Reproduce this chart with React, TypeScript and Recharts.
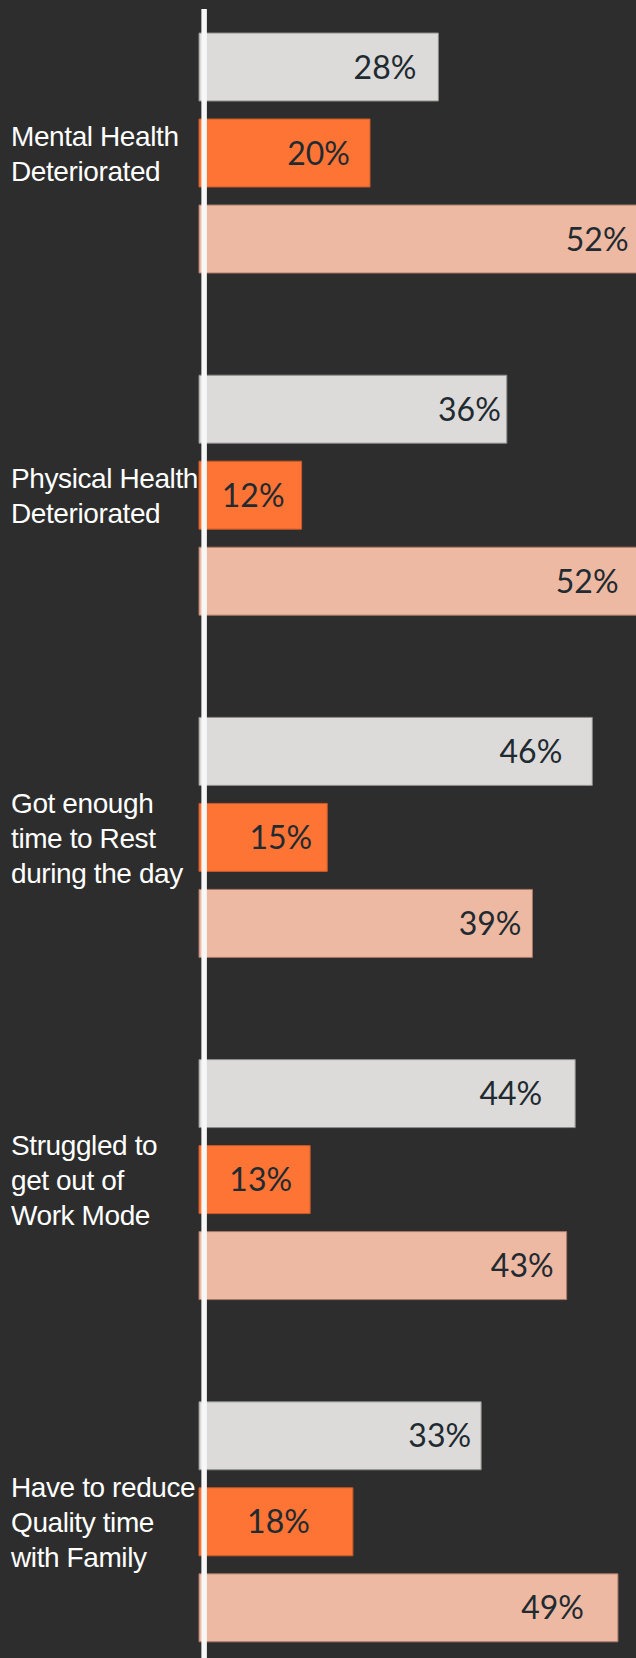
import React from "react";
import { BarChart, Bar, XAxis, YAxis, LabelList, ReferenceLine } from "recharts";

const categories = [
  "Mental Health\nDeteriorated",
  "Physical Health\nDeteriorated",
  "Got enough\ntime to Rest\nduring the day",
  "Struggled to\nget out of\nWork Mode",
  "Have to reduce\nQuality time\nwith Family",
];
const seriesGray = [28, 36, 46, 44, 33];
const seriesOrange = [20, 12, 15, 13, 18];
const seriesPeach = [52, 52, 39, 43, 49];

// label inset from bar end (style, px)
const insetGray = [22, 6, 30, 33, 10];
const insetOrange = [20, 17, 15, 18, 43];
const insetPeach = [15, 25, 11, 13, 34];

const data = categories.map((name, i) => ({
  name,
  gray: seriesGray[i],
  orange: seriesOrange[i],
  peach: seriesPeach[i],
}));

const CategoryTick = (props: any) => {
  const { y, payload } = props;
  const lines = String(payload.value).split("\n");
  const lh = 35;
  return (
    <text
      x={11}
      y={y}
      fill="#ffffff"
      fontSize={28}
      letterSpacing={-0.4}
      fontFamily="'Liberation Sans', Arial, sans-serif"
      textAnchor="start"
    >
      {lines.map((ln, i) => (
        <tspan key={i} x={11} y={y + (i - (lines.length - 1) / 2) * lh + 10}>
          {ln}
        </tspan>
      ))}
    </text>
  );
};

const makeLabel = (insets: number[]) => (p: any) => {
  const { x, y, width, height, value, index } = p;
  const inset = insets[index] ?? 18;
  return (
    <text
      x={Number(x) + Number(width) - inset}
      y={Number(y) + Number(height) / 2}
      dy="0.36em"
      textAnchor="end"
      fill="#1f2a31"
      fontSize={32}
      fontWeight={400}
      fontFamily="Lato, sans-serif"
    >
      {`${value}%`}
    </text>
  );
};

export default function App() {
  return (
    <div
      style={{
        position: "absolute",
        left: 0,
        top: 0,
        width: 636,
        height: 1658,
        overflow: "hidden",
        background: "#2d2d2d",
      }}
    >
      <BarChart
        width={712}
        height={1693}
        layout="vertical"
        data={data}
        margin={{ top: 9, right: 0, left: 0, bottom: 0 }}
        barGap={18}
      >
        <XAxis type="number" domain={[0, 60]} hide />
        <YAxis
          type="category"
          dataKey="name"
          width={199}
          tickLine={false}
          axisLine={false}
          interval={0}
          tick={<CategoryTick />}
          padding={{ top: -27, bottom: 0 }}
        />
        <Bar dataKey="gray" fill="#dcdbd9" stroke="#8e8d8b" strokeWidth={1} barSize={68} isAnimationActive={false}>
          <LabelList dataKey="gray" content={makeLabel(insetGray)} />
        </Bar>
        <Bar dataKey="orange" fill="#fd7435" stroke="#c85a28" strokeWidth={1} barSize={68} isAnimationActive={false}>
          <LabelList dataKey="orange" content={makeLabel(insetOrange)} />
        </Bar>
        <Bar dataKey="peach" fill="#edb9a2" stroke="#a87966" strokeWidth={1} barSize={68} isAnimationActive={false}>
          <LabelList dataKey="peach" content={makeLabel(insetPeach)} />
        </Bar>
        <ReferenceLine x={0.6} stroke="#f7f7f7" strokeWidth={5.5} />
      </BarChart>
    </div>
  );
}
